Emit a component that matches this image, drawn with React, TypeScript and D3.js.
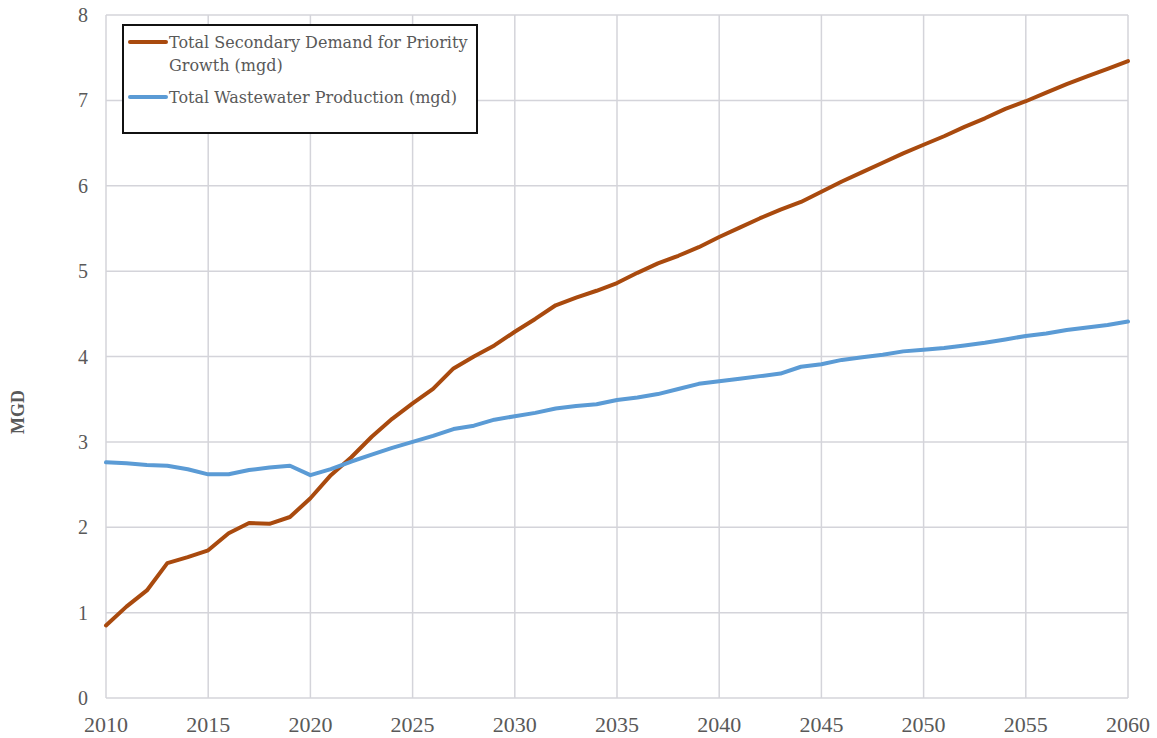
import { useRef, useEffect } from "react";
import * as d3 from "d3";

const years = d3.range(2010, 2061);

const demand = [
  0.85, 1.07, 1.26, 1.58, 1.65, 1.73, 1.93, 2.05, 2.04, 2.12,
  2.34, 2.61, 2.82, 3.06, 3.27, 3.45, 3.62, 3.86, 4.0, 4.13,
  4.29, 4.44, 4.6, 4.69, 4.77, 4.86, 4.98, 5.09, 5.18, 5.28,
  5.4, 5.51, 5.62, 5.72, 5.81, 5.93, 6.05, 6.16, 6.27, 6.38,
  6.48, 6.58, 6.69, 6.79, 6.9, 6.99, 7.09, 7.19, 7.28, 7.37,
  7.46,
];

const wastewater = [
  2.76, 2.75, 2.73, 2.72, 2.68, 2.62, 2.62, 2.67, 2.7, 2.72,
  2.61, 2.68, 2.77, 2.85, 2.93, 3.0, 3.07, 3.15, 3.19, 3.26,
  3.3, 3.34, 3.39, 3.42, 3.44, 3.49, 3.52, 3.56, 3.62, 3.68,
  3.71, 3.74, 3.77, 3.8, 3.88, 3.91, 3.96, 3.99, 4.02, 4.06,
  4.08, 4.1, 4.13, 4.16, 4.2, 4.24, 4.27, 4.31, 4.34, 4.37,
  4.41,
];

const xTicks = [2010, 2015, 2020, 2025, 2030, 2035, 2040, 2045, 2050, 2055, 2060];
const yTicks = [0, 1, 2, 3, 4, 5, 6, 7, 8];

const seriesNames = [
  ["Total Secondary Demand for Priority", "Growth (mgd)"],
  ["Total Wastewater Production (mgd)"],
];
const seriesColors = ["#a94a0e", "#5b9bd5"];

function LineChart() {
  const svgRef = useRef<SVGSVGElement>(null);

  useEffect(() => {
    drawChart();
  }, []);

  function drawChart() {
    if (!svgRef.current) return;
    const svg = d3.select(svgRef.current);
    svg.selectAll("*").remove();

    const left = 106;
    const right = 1128;
    const top = 15;
    const bottom = 698;
    const font = "'Liberation Serif', 'Times New Roman', serif";
    const legendFont = "'DejaVu Serif', serif";
    const textColor = "#595959";
    const gridColor = "#d4d4da";

    const x = d3.scaleLinear().domain([2010, 2060]).range([left, right]);
    const y = d3.scaleLinear().domain([0, 8]).range([bottom, top]);

    // grid
    svg
      .append("g")
      .selectAll("line")
      .data(yTicks)
      .join("line")
      .attr("x1", left)
      .attr("x2", right)
      .attr("y1", (d) => y(d))
      .attr("y2", (d) => y(d))
      .attr("stroke", gridColor)
      .attr("stroke-width", 1.5);

    svg
      .append("g")
      .selectAll("line")
      .data(xTicks)
      .join("line")
      .attr("x1", (d) => x(d))
      .attr("x2", (d) => x(d))
      .attr("y1", top)
      .attr("y2", bottom)
      .attr("stroke", gridColor)
      .attr("stroke-width", 1.5);

    // tick labels
    svg
      .append("g")
      .selectAll("text")
      .data(yTicks)
      .join("text")
      .attr("x", 88)
      .attr("y", (d) => y(d))
      .attr("dy", ".35em")
      .attr("text-anchor", "end")
      .attr("font-family", font)
      .attr("font-size", "20px")
      .attr("fill", textColor)
      .text((d) => d);

    svg
      .append("g")
      .selectAll("text")
      .data(xTicks)
      .join("text")
      .attr("x", (d) => x(d))
      .attr("y", 732)
      .attr("text-anchor", "middle")
      .attr("font-family", font)
      .attr("font-size", "22px")
      .attr("fill", textColor)
      .text((d) => d);

    svg
      .append("text")
      .attr("transform", "translate(24, 412) rotate(-90)")
      .attr("text-anchor", "middle")
      .attr("font-family", font)
      .attr("font-size", "18px")
      .attr("font-weight", "bold")
      .attr("fill", textColor)
      .text("MGD");

    // lines
    const line = d3
      .line<number>()
      .x((_, i) => x(years[i]))
      .y((d) => y(d));

    [demand, wastewater].forEach((values, i) => {
      svg
        .append("path")
        .datum(values)
        .attr("fill", "none")
        .attr("stroke", seriesColors[i])
        .attr("stroke-width", 4)
        .attr("stroke-linejoin", "round")
        .attr("stroke-linecap", "round")
        .attr("d", line);
    });

    // legend
    const legend = svg.append("g");
    legend
      .append("rect")
      .attr("x", 123)
      .attr("y", 25)
      .attr("width", 354)
      .attr("height", 108)
      .attr("fill", "white")
      .attr("stroke", "#111")
      .attr("stroke-width", 2);

    const rowY = [42, 97];
    seriesNames.forEach((lines, i) => {
      legend
        .append("line")
        .attr("x1", 130)
        .attr("x2", 166)
        .attr("y1", rowY[i])
        .attr("y2", rowY[i])
        .attr("stroke", seriesColors[i])
        .attr("stroke-width", 4)
        .attr("stroke-linecap", "round");
      lines.forEach((t, j) => {
        legend
          .append("text")
          .attr("x", 169)
          .attr("y", rowY[i] + 6 + j * 23)
          .attr("font-family", legendFont)
          .attr("font-size", "16px")
          .attr("fill", textColor)
          .text(t);
      });
    });
  }

  return (
    <svg
      ref={svgRef}
      width={1157}
      height={738}
      style={{ position: "absolute", top: 0, left: 0, background: "white" }}
    />
  );
}

export default function App() {
  return <LineChart />;
}
